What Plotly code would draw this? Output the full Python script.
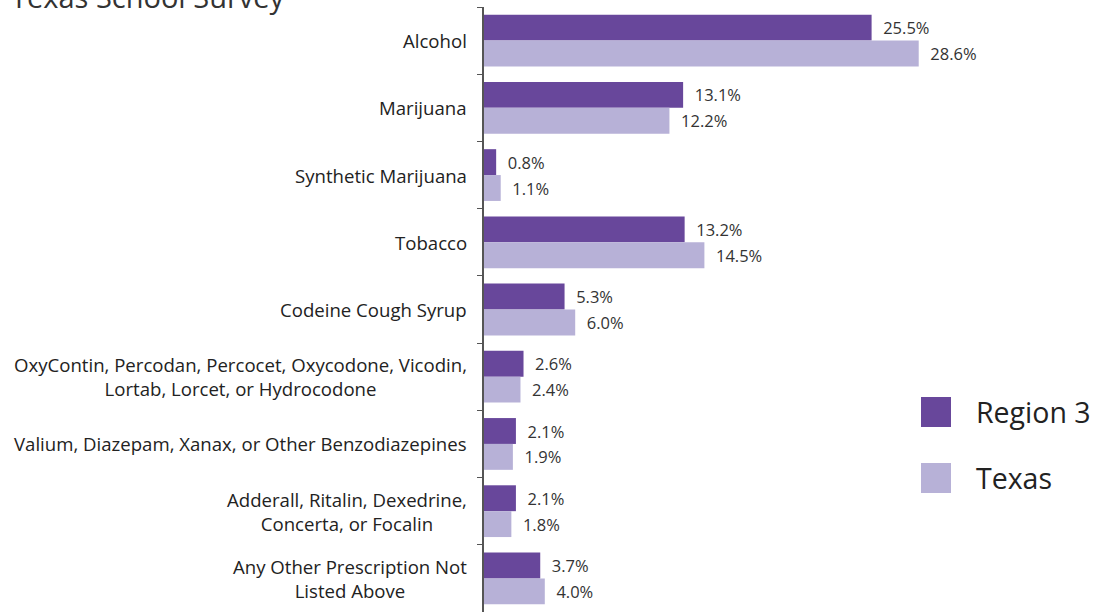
import plotly.graph_objects as go

categories = [
    "Alcohol",
    "Marijuana",
    "Synthetic Marijuana",
    "Tobacco",
    "Codeine Cough Syrup",
    "OxyContin, Percodan, Percocet, Oxycodone, Vicodin,<br>Lortab, Lorcet, or Hydrocodone",
    "Valium, Diazepam, Xanax, or Other Benzodiazepines",
    "Adderall, Ritalin, Dexedrine,<br>Concerta, or Focalin",
    "Any Other Prescription Not<br>Listed Above",
]
region3 = [25.5, 13.1, 0.8, 13.2, 5.3, 2.6, 2.1, 2.1, 3.7]
texas = [28.6, 12.2, 1.1, 14.5, 6.0, 2.4, 1.9, 1.8, 4.0]
series_names = ["Region 3", "Texas"]
title_text = "Texas School Survey"

C_REGION = "#68479b"
C_TEXAS = "#b7b1d7"
FONT = "Open Sans"

W, H = 1098, 612
ML, MR, MT, MB = 484, 6, 7, 0
PW = W - ML - MR
PH = H - MT - MB

def px_x(px):
    return (px - ML) / PW

def px_y(py):
    return 1 - (py - MT) / PH

fig = go.Figure()
for name, vals, col in [(series_names[0], region3, C_REGION), (series_names[1], texas, C_TEXAS)]:
    fig.add_trace(go.Bar(
        y=categories, x=vals, name=name, orientation="h",
        marker=dict(color=col, line=dict(width=0)),
        text=["  %.1f%%" % v for v in vals], textposition="outside",
        textfont=dict(family=FONT, size=16.5, color="#333333"),
        cliponaxis=False, showlegend=False, hoverinfo="skip",
    ))

# category labels (centered multi-line, right aligned block)
for c in categories:
    fig.add_annotation(x=0, xref="paper", y=c, yref="y", text=c, showarrow=False,
                       xanchor="right", yanchor="middle", align="center", xshift=-15,
                       font=dict(family=FONT, size=18.6, color="#222222"))

# custom legend
legend_items = [(series_names[0], C_REGION, 412), (series_names[1], C_TEXAS, 478)]
for name, col, cy in legend_items:
    fig.add_shape(type="rect", xref="paper", yref="paper",
                  x0=px_x(921), x1=px_x(951), y0=px_y(cy + 15), y1=px_y(cy - 15),
                  fillcolor=col, line=dict(width=0))
    fig.add_annotation(x=px_x(974), xref="paper", y=px_y(cy), yref="paper", text=name,
                       showarrow=False, xanchor="left", yanchor="middle",
                       font=dict(family=FONT, size=28.5, color="#222222"))

fig.update_layout(
    width=W, height=H,
    margin=dict(l=ML, r=MR, t=MT, b=MB),
    paper_bgcolor="white", plot_bgcolor="white",
    barmode="group", bargap=0.23, bargroupgap=0,
    title=dict(text=title_text, x=11 / W, xanchor="left", xref="container",
               y=1 - 8 / H, yanchor="bottom", yref="container",
               font=dict(family=FONT, size=29, color="#333333")),
    xaxis=dict(range=[0, 40], visible=False, showgrid=False, zeroline=False),
    yaxis=dict(autorange="reversed", showticklabels=False, showgrid=False,
               showline=True, linecolor="#555555", linewidth=1.5,
               ticks="outside", ticklen=5, tickcolor="#555555", tickson="boundaries"),
)

fig.write_html("out.html", config={"displayModeBar": False},
               post_script="document.body.style.margin='0px';")
